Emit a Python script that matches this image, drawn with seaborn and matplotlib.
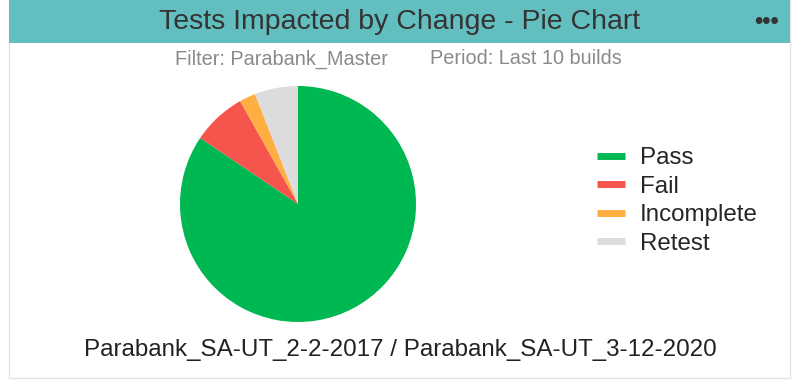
import matplotlib
matplotlib.use("Agg")
import matplotlib.pyplot as plt
import seaborn as sns
from matplotlib.patches import Rectangle
from matplotlib.lines import Line2D

sns.set_theme(style="white")
plt.rcParams['font.family'] = ['Liberation Sans', 'DejaVu Sans']

categories = ["Pass", "Fail", "Incomplete", "Retest"]
values = [228, 20, 6, 16]
colors = ["#00b852", "#f5554d", "#ffae42", "#dcdcdc"]
title = "Tests Impacted by Change - Pie Chart"
subtitle_filter = "Filter: Parabank_Master"
subtitle_period = "Period: Last 10 builds"
footer = "Parabank_SA-UT_2-2-2017 / Parabank_SA-UT_3-12-2020"

W, H = 799, 390
fig = plt.figure(figsize=(W / 100, H / 100), dpi=100)
fig.patch.set_facecolor("white")

def fx(x):
    return x / W

def fy(y):
    return 1 - y / H

# panel border
fig.patches.append(Rectangle((fx(9), fy(378)), fx(781), (378 - 0) / H,
                             transform=fig.transFigure, facecolor="none",
                             edgecolor="#e3e3e3", lw=1))
# header bar
fig.patches.append(Rectangle((fx(9), fy(43)), fx(781), 43 / H,
                             transform=fig.transFigure, facecolor="#63bfbf",
                             edgecolor="none"))
fig.text(fx(400), fy(22), title, ha="center", va="center", fontsize=20.5, color="#333333")
fig.text(fx(767), fy(21), "•••", ha="center", va="center", fontsize=17,
         fontweight="bold", color="#333333")
fig.text(fx(281), fy(59), subtitle_filter, ha="center", va="center", fontsize=14.3, color="#8a8a8a")
fig.text(fx(526), fy(59), subtitle_period, ha="center", va="center", fontsize=14.3, color="#8a8a8a")
fig.text(fx(400), fy(350), footer, ha="center", va="center", fontsize=17.4, color="#222222")

# pie axes
cx, cy, r = 298, 204, 118
ax = fig.add_axes([fx(cx - r), fy(cy + r), 2 * r / W, 2 * r / H])
ax.pie(values, colors=colors, startangle=90, counterclock=False, radius=1,
       wedgeprops=dict(linewidth=0))
ax.set_xlim(-1, 1)
ax.set_ylim(-1, 1)
ax.set_aspect("equal")
ax.axis("off")

handles = [Line2D([0], [0], color=c, lw=5, solid_capstyle="butt") for c in colors]
fig.legend(handles, categories, loc="upper left", bbox_to_anchor=(fx(597), fy(147)),
           frameon=False, fontsize=17.4, handlelength=1.16, handletextpad=0.62,
           labelspacing=0.27, borderpad=0, borderaxespad=0)

fig.savefig("out.png", dpi=100)
